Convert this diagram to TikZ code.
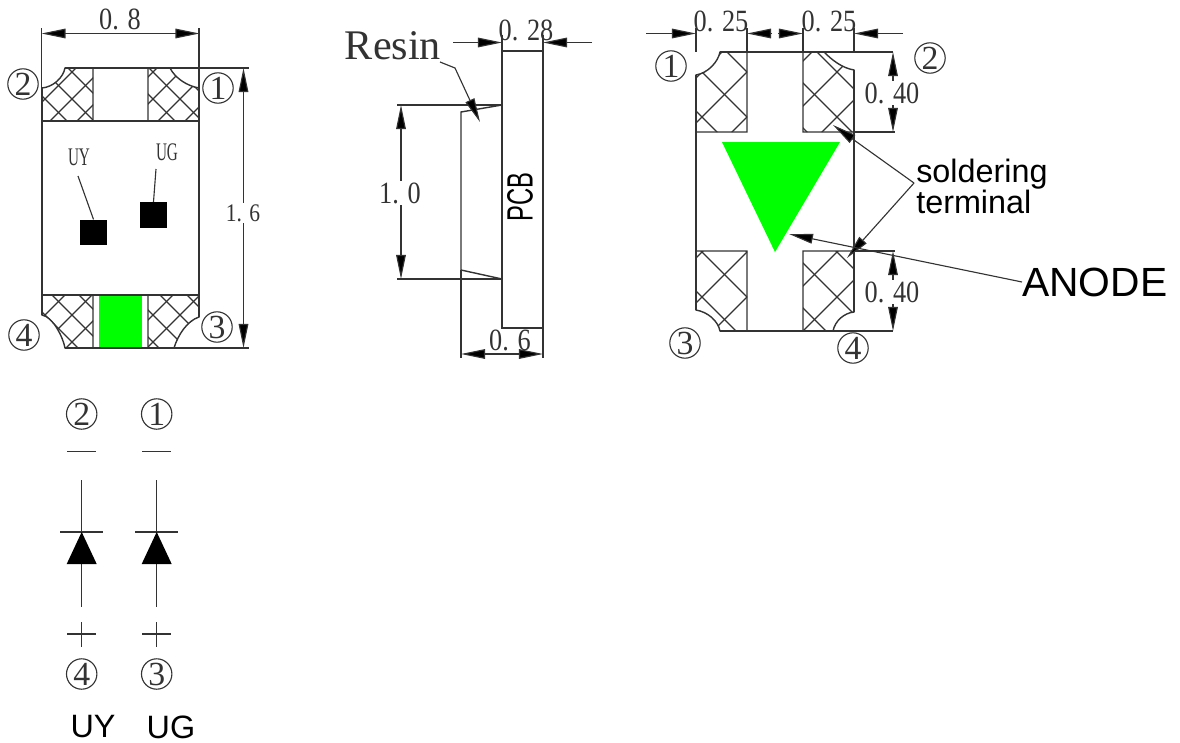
\documentclass[tikz,border=0pt]{standalone}
\usepackage{fontspec}
\usepackage{graphicx}
\usepackage{tikz}
\usetikzlibrary{arrows.meta}
\setmainfont{Liberation Serif}
\newfontfamily\labelfont{Liberation Sans}
\definecolor{inkgray}{HTML}{333333}
\definecolor{ledgreen}{HTML}{00FF00}
\tikzset{
    part/.style={draw=inkgray, line width=1pt},
    hatchline/.style={draw=inkgray, line width=0.8pt},
    dimline/.style={draw=inkgray, line width=0.8pt},
    dimarrow/.style={dimline, {Triangle[length=0.6cm,width=0.24cm,fill=black]}-{Triangle[length=0.6cm,width=0.24cm,fill=black]}},
    onearrow/.style={dimline, -{Triangle[length=0.6cm,width=0.24cm,fill=black]}},
    dimtext/.style={font=\fontsize{22}{22}\selectfont, text=inkgray, inner sep=1pt},
    gaptext/.style={dimtext, fill=white},
    pin/.style={draw=inkgray, line width=0.8pt, circle, minimum size=0.76cm, inner sep=0pt, font=\fontsize{24}{24}\selectfont, text=inkgray},
    tagtext/.style={font=\fontsize{18}{18}\selectfont, text=inkgray, inner sep=0pt},
    sanstext/.style={font=\labelfont\fontsize{23}{22}\selectfont, inner sep=0pt},
    chip/.style={fill=black, minimum width=0.67cm, minimum height=0.64cm, inner sep=0pt}
}
\newcommand{\dimnum}[1]{\scalebox{0.85}[1]{#1}}
\newcommand{\tagnum}[1]{\scalebox{0.6}[1]{#1}}
% pad outline #1, hatch step #2
\newcommand{\padhatch}[2]{
    \begin{scope}
        \clip #1;
        \foreach \n in {-30,...,60} {
            \draw[hatchline] (\n*#2,0) -- ++(400,400);
            \draw[hatchline] (\n*#2+9,0) -- ++(-400,400);
        }
    \end{scope}
    \draw[part] #1;
}

\begin{document}
\begin{tikzpicture}[x=0.025cm, y=-0.025cm]
    \useasboundingbox (0,0) rectangle (1180,743);

    % top view
    \fill[ledgreen] (98.5,295) rectangle (142,348);
    \padhatch{(65,68) .. controls (63,78) and (53,87) .. (42,88) -- (42,121) -- (93,121) -- (93,68) -- cycle}{27}
    \padhatch{(148,68) -- (148,121) -- (199,121) -- (199,88) .. controls (187,86) and (175,78) .. (170,68) -- cycle}{27}
    \padhatch{(42,295) -- (42,315) .. controls (53,317) and (63,337) .. (65,348) -- (93,348) -- (93,295) -- cycle}{27}
    \padhatch{(148,295) -- (148,348) -- (174,348) .. controls (178,335) and (187,321) .. (199,317) -- (199,295) -- cycle}{27}
    \draw[part] (42,88) -- (42,315);
    \draw[part] (199,88) -- (199,317);
    \draw[part] (42,121) -- (199,121);
    \draw[part] (42,295) -- (199,295);
    \draw[part] (65,68) -- (249,68);
    \draw[part] (65,348) -- (249,348);
    \draw[dimline] (41.5,28) -- (41.5,88);
    \draw[dimline] (199,28) -- (199,88);
    \draw[dimarrow] (41.5,33.5) -- (199.5,33.5);
    \node[dimtext] (width) at (120,19) {\dimnum{0. 8}};
    \draw[dimarrow] (243.5,68) -- (243.5,348);
    \node[gaptext, font=\fontsize{18}{18}\selectfont] (height) at (243,213) {\dimnum{1. 6}};
    \node[pin] (topB) at (23,84) {2};
    \node[pin] (topA) at (218,88) {1};
    \node[pin] (topD) at (24,335) {4};
    \node[pin] (topC) at (217,327) {3};
    \node[chip] (chipUY) at (93.5,232.5) {};
    \node[chip] (chipUG) at (153.5,215) {};
    \node[tagtext] (tagUY) at (79,157) {\tagnum{UY}};
    \node[tagtext] (tagUG) at (167,152) {\tagnum{UG}};
    \coordinate (leadUY) at (78,176);
    \coordinate (leadUG) at (156,169);
    \draw[dimline] (leadUY) -- (chipUY.north);
    \draw[dimline] (leadUG) -- (chipUG.north);

    % side view
    \draw[part] (502,51) rectangle (543,328);
    \draw[part] (502,105) -- (461,112) -- (461,270) -- (502,279);
    \draw[dimline] (461,270) -- (461,358);
    \draw[dimline] (543,328) -- (543,358);
    \draw[dimline] (502,35) -- (502,51);
    \draw[dimline] (543,35) -- (543,51);
    \draw[dimline] (397,105) -- (502,105);
    \draw[dimline] (397,279) -- (502,279);
    \draw[dimarrow] (401,105) -- (401,279);
    \node[gaptext] (lengthA) at (400,193) {\dimnum{1. 0}};
    \draw[dimarrow] (461,354) -- (543,354);
    \node[dimtext] (widthB) at (510,340) {\dimnum{0. 6}};
    \draw[onearrow] (453,42.5) -- (502,42.5);
    \draw[onearrow] (592,42.5) -- (543,42.5);
    \node[dimtext] (thick) at (526,30) {\dimnum{0. 28}};
    \node[font=\fontsize{30}{30}\selectfont, text=inkgray, inner sep=0pt] (resin) at (393,46) {Resin};
    \coordinate (resinTip) at (480,122);
    \draw[onearrow] (440,62) -- (455,68) -- (resinTip);
    \node[sanstext, font=\labelfont\fontsize{26}{26}\selectfont, rotate=90] (pcb) at (520,197) {\scalebox{0.65}[1]{PCB}};

    % bottom view
    \padhatch{(720,52) .. controls (718,62) and (708,73) .. (696,75) -- (696,132) -- (747,132) -- (747,52) -- cycle}{45}
    \padhatch{(803,52) -- (803,132) -- (854,132) -- (854,70) .. controls (842,68) and (832,60) .. (824,52) -- cycle}{45}
    \padhatch{(696,251) -- (696,310) .. controls (708,312) and (718,321) .. (720,331) -- (747,331) -- (747,251) -- cycle}{45}
    \padhatch{(803,251) -- (803,331) -- (833,331) .. controls (835,321) and (844,313) .. (854,312) -- (854,251) -- cycle}{45}
    \draw[part] (696,75) -- (696,310);
    \draw[part] (854,70) -- (854,312);
    \draw[part] (720,52) -- (893,52);
    \draw[part] (720,331) -- (893,331);
    \draw[part] (854,132) -- (895,132);
    \draw[part] (854,251) -- (895,251);
    \fill[ledgreen] (722,142) -- (840,142) -- (775,252) -- cycle;
    \foreach \xpos in {696,747,803,854} {
        \draw[dimline] (\xpos,28) -- (\xpos,52);
    }
    \draw[onearrow] (646,33.5) -- (696,33.5);
    \draw[onearrow] (772,33.5) -- (747,33.5);
    \draw[onearrow] (778,33.5) -- (803,33.5);
    \draw[onearrow] (903,33.5) -- (854,33.5);
    \node[dimtext] (padA) at (721,21) {\dimnum{0. 25}};
    \node[dimtext] (padB) at (829,21) {\dimnum{0. 25}};
    \draw[dimarrow] (893,52) -- (893,132);
    \node[gaptext] (padC) at (892,93) {\dimnum{0. 40}};
    \draw[dimarrow] (893,251) -- (893,331);
    \node[gaptext] (padD) at (892,292) {\dimnum{0. 40}};
    \node[pin] (botA) at (671,66) {1};
    \node[pin] (botB) at (930,58) {2};
    \node[pin] (botC) at (685,343) {3};
    \node[pin] (botD) at (853,348) {4};
    \node[sanstext, align=left, anchor=north west] (solder) at (916,159) {soldering\\terminal};
    \coordinate (solderJoin) at (914,183);
    \coordinate (solderTopTip) at (833,125);
    \coordinate (solderBotTip) at (847,258);
    \draw[onearrow] (solderJoin) -- (solderTopTip);
    \draw[onearrow] (solderJoin) -- (solderBotTip);
    \node[sanstext, font=\labelfont\fontsize{29}{29}\selectfont, anchor=west] (anode) at (1022,282) {ANODE};
    \coordinate (anodeTip) at (789,234);
    \draw[onearrow] (anode.west) -- (anodeTip);

    % diodes
    \foreach \xpos/\up/\down/\tag in {81.7/2/4/UY, 156.7/1/3/UG} {
        \node[pin] (up\tag) at (\xpos,414) {\up};
        \node[pin] (down\tag) at (\xpos,674) {\down};
        \draw[hatchline] (\xpos-14.5,451.7) -- (\xpos+14.5,451.7);
        \draw[hatchline] (\xpos,480) -- (\xpos,607);
        \draw[hatchline] (\xpos-21.5,532) -- (\xpos+21.5,532);
        \fill[black] (\xpos,532) -- (\xpos+15,564) -- (\xpos-15,564) -- cycle;
        \draw[hatchline] (\xpos-14.5,634) -- (\xpos+14.5,634);
        \draw[hatchline] (\xpos,622) -- (\xpos,647);
    }
    \node[sanstext] (nameUY) at (93,727) {UY};
    \node[sanstext] (nameUG) at (171,727) {UG};
\end{tikzpicture}
\end{document}
